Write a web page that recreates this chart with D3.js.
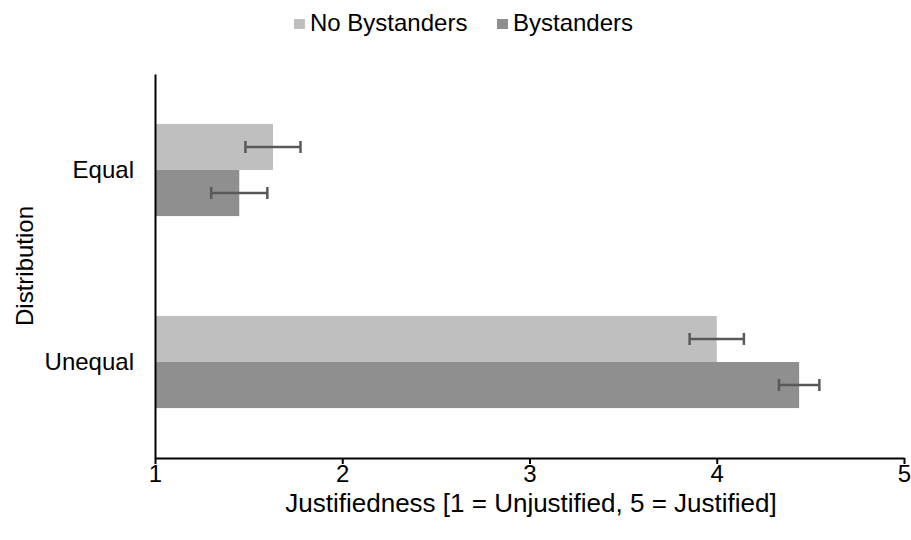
<!DOCTYPE html>
<html>
<head>
<meta charset="utf-8">
<script src="https://cdn.jsdelivr.net/npm/d3@7"></script>
<style>
  body { margin: 0; background: #fff; }
  text { font-family: "Liberation Sans", Arial, sans-serif; fill: #000; }
</style>
</head>
<body>
<div id="chart"></div>
<script>
// chart values
const categories = ["Equal", "Unequal"];
const seriesNames = ["No Bystanders", "Bystanders"];
const noBystanders = [1.63, 4.00];
const bystanders = [1.45, 4.44];
const noBystandersErr = [0.147, 0.145];
const bystandersErr = [0.15, 0.108];
const xTicks = [1, 2, 3, 4, 5];

const width = 911;
const height = 540;
const margin = {left: 155, right: 7, top: 74, bottom: 82};
const colors = ["#bfbfbf", "#8f8f8f"];

const svg = d3.select("#chart")
  .append("svg")
  .attr("width", width)
  .attr("height", height);

// scales
const xScale = d3.scaleLinear()
  .domain([1, 5])
  .range([margin.left, width - margin.right]);

const yScale = d3.scaleBand()
  .domain(categories)
  .range([margin.top, height - margin.bottom])
  .paddingInner(0.52)
  .paddingOuter(0.26);

const ySub = d3.scaleBand()
  .domain(seriesNames)
  .range([0, yScale.bandwidth()]);

// rows for bars
const rows = [];
categories.forEach((c, i) => {
  rows.push({cat: c, series: seriesNames[0], value: noBystanders[i], err: noBystandersErr[i], color: colors[0]});
  rows.push({cat: c, series: seriesNames[1], value: bystanders[i], err: bystandersErr[i], color: colors[1]});
});

// bars
svg.selectAll(".bar")
  .data(rows)
  .enter()
  .append("rect")
    .attr("class", "bar")
    .attr("x", xScale(1))
    .attr("y", d => yScale(d.cat) + ySub(d.series))
    .attr("width", d => xScale(d.value) - xScale(1))
    .attr("height", ySub.bandwidth())
    .attr("fill", d => d.color);

// error bars
const errG = svg.selectAll(".err")
  .data(rows)
  .enter()
  .append("g")
    .attr("class", "err")
    .attr("stroke", "#595959")
    .attr("stroke-width", 2.5);

errG.append("line")
  .attr("x1", d => xScale(d.value - d.err))
  .attr("x2", d => xScale(d.value + d.err))
  .attr("y1", d => yScale(d.cat) + ySub(d.series) + ySub.bandwidth() / 2)
  .attr("y2", d => yScale(d.cat) + ySub(d.series) + ySub.bandwidth() / 2);

[-1, 1].forEach(s => {
  errG.append("line")
    .attr("x1", d => xScale(d.value + s * d.err))
    .attr("x2", d => xScale(d.value + s * d.err))
    .attr("y1", d => yScale(d.cat) + ySub(d.series) + ySub.bandwidth() / 2 - 6)
    .attr("y2", d => yScale(d.cat) + ySub(d.series) + ySub.bandwidth() / 2 + 6);
});

// x axis
const xAxis = svg.append("g")
  .attr("transform", `translate(0,${height - margin.bottom})`)
  .call(d3.axisBottom(xScale).tickValues(xTicks).tickFormat(d3.format("d")).tickSize(6).tickSizeOuter(0));
xAxis.select(".domain").attr("stroke", "#000").attr("stroke-width", 2);
xAxis.selectAll(".tick line").attr("stroke", "#000").attr("stroke-width", 2);
xAxis.selectAll(".tick text")
  .attr("font-size", "24px")
  .attr("font-family", "Liberation Sans, Arial, sans-serif")
  .attr("y", 7);

// y axis
const yAxis = svg.append("g")
  .attr("transform", `translate(${margin.left},0)`)
  .call(d3.axisLeft(yScale).tickSize(0).tickSizeOuter(0));
yAxis.select(".domain").attr("stroke", "#000").attr("stroke-width", 2);
yAxis.selectAll(".tick text")
  .attr("font-size", "24px")
  .attr("font-family", "Liberation Sans, Arial, sans-serif")
  .attr("x", -21);

// axis titles
svg.append("text")
  .attr("x", 531)
  .attr("y", 512)
  .attr("text-anchor", "middle")
  .attr("font-size", "26px")
  .text("Justifiedness [1 = Unjustified, 5 = Justified]");

svg.append("text")
  .attr("transform", `translate(33,${(margin.top + height - margin.bottom) / 2}) rotate(-90)`)
  .attr("text-anchor", "middle")
  .attr("font-size", "24px")
  .text("Distribution");

// legend
const legendX = [294, 497];
const legend = svg.selectAll(".legend")
  .data(seriesNames)
  .enter()
  .append("g")
    .attr("class", "legend")
    .attr("transform", (d, i) => `translate(${legendX[i]},0)`);

legend.append("rect")
  .attr("x", 0)
  .attr("y", 19)
  .attr("width", 11)
  .attr("height", 10)
  .attr("fill", (d, i) => colors[i]);

legend.append("text")
  .attr("x", 16)
  .attr("y", 31)
  .attr("font-size", "24px")
  .text(d => d);
</script>
</body>
</html>
